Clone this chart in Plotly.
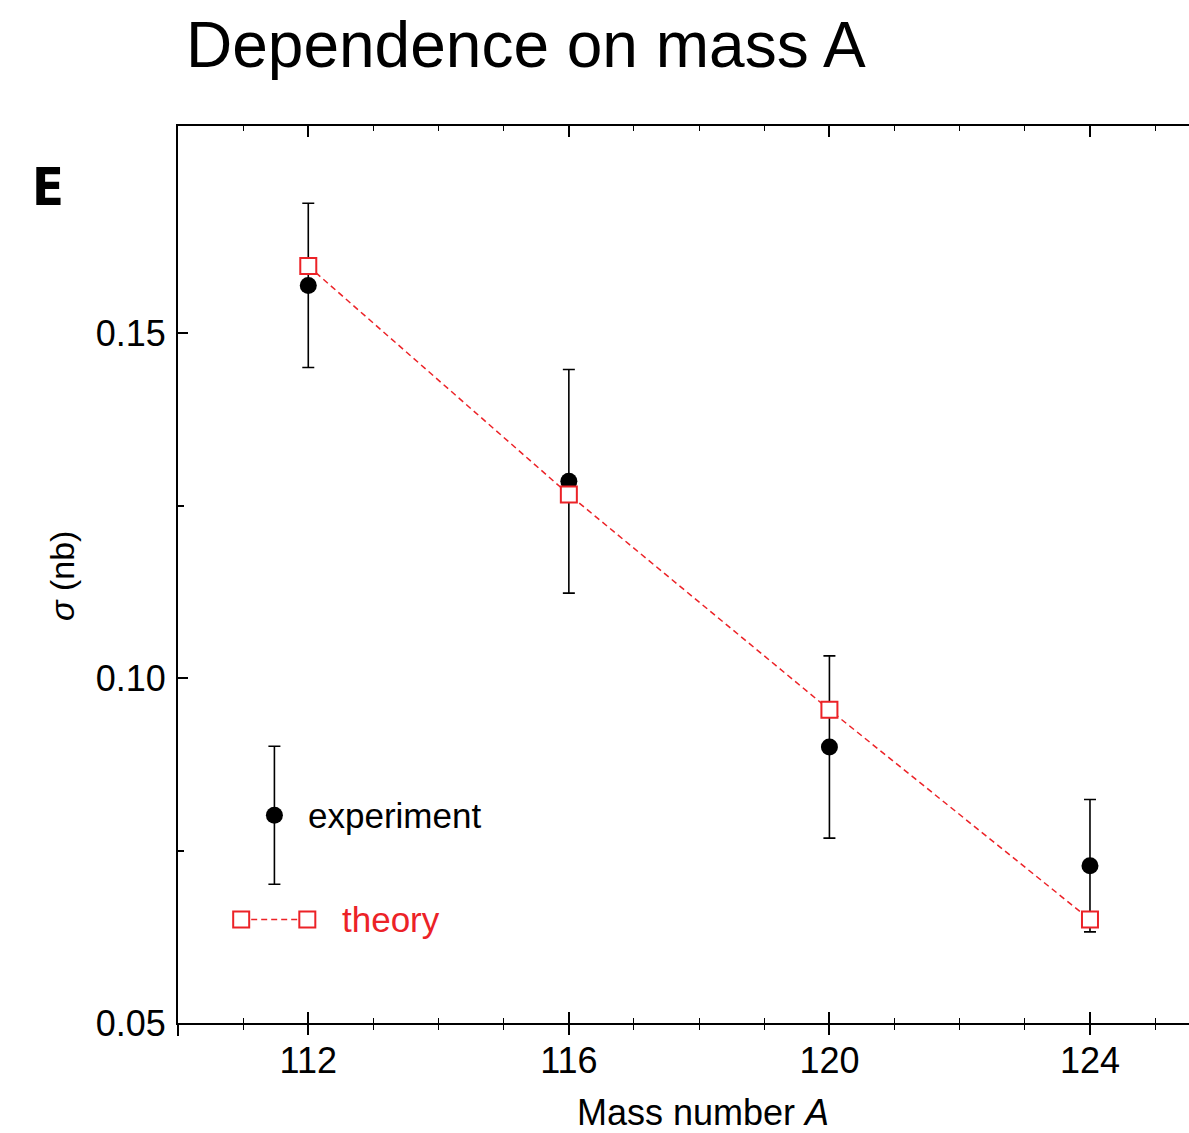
import plotly.graph_objects as go

# ---- data ----
mass_A = [112, 116, 120, 124]
exp_sigma = [0.1569, 0.1285, 0.0900, 0.0728]
exp_err = [0.0119, 0.0162, 0.0132, 0.0096]
theory_sigma = [0.1597, 0.1266, 0.0954, 0.0650]

# ---- legend key placement (layout, in axis units) ----
LEG_EXP_X = [111.48]
LEG_EXP_Y = [0.0801]
LEG_EXP_ERR = [0.0100]
LEG_TH_X = [110.97, 111.985]
LEG_TH_Y = [0.0650, 0.0650]

RED = "#ec2227"
FONT = "Liberation Sans, Arial, Helvetica, sans-serif"

fig = go.Figure()

fig.add_trace(go.Scatter(
    x=mass_A, y=exp_sigma, mode="markers",
    marker=dict(symbol="circle", size=17, color="black"),
    error_y=dict(type="data", array=exp_err, visible=True, color="black",
                 thickness=1.6, width=6),
    showlegend=False, cliponaxis=False))

fig.add_trace(go.Scatter(
    x=mass_A, y=theory_sigma, mode="lines+markers",
    line=dict(color=RED, width=1.5, dash="6px,4px"),
    marker=dict(symbol="square", size=16, color="white",
                line=dict(color=RED, width=2)),
    showlegend=False, cliponaxis=False))

# legend keys
fig.add_trace(go.Scatter(
    x=LEG_EXP_X, y=LEG_EXP_Y, mode="markers",
    marker=dict(symbol="circle", size=17, color="black"),
    error_y=dict(type="data", array=LEG_EXP_ERR, visible=True, color="black",
                 thickness=1.6, width=6),
    showlegend=False))
fig.add_trace(go.Scatter(
    x=LEG_TH_X, y=LEG_TH_Y, mode="lines+markers",
    line=dict(color=RED, width=1.5, dash="6px,4px"),
    marker=dict(symbol="square", size=16, color="white",
                line=dict(color=RED, width=2)),
    showlegend=False))

# overlay axis for the outward half of bottom ticks
fig.add_trace(go.Scatter(x=[110], y=[0.05], xaxis="x2", mode="markers",
                         marker=dict(opacity=0), showlegend=False,
                         hoverinfo="skip"))

XR = [110, 125.52]
YR = [0.05, 0.18]

fig.update_layout(
    width=1189, height=1133,
    margin=dict(l=178, r=0, t=126, b=110),
    paper_bgcolor="white", plot_bgcolor="white",
    font=dict(family=FONT, size=36, color="black"),
    title=dict(text="Dependence on mass A", font=dict(size=64, color="black"),
               xref="container", x=186/1189, xanchor="left",
               yref="container", y=1-45/1133, yanchor="middle"),
    xaxis=dict(range=XR, showgrid=False, zeroline=False,
               showline=True, linecolor="black", linewidth=2,
               mirror="allticks",
               ticks="inside", ticklen=11, tickwidth=1.5, tickcolor="black",
               tick0=112, dtick=4, ticklabelstandoff=5,
               tickfont=dict(size=36),
               minor=dict(dtick=1, ticks="inside", ticklen=5, tickwidth=1.2,
                          tickcolor="black")),
    xaxis2=dict(range=XR, overlaying="x", anchor="y", side="bottom",
                showgrid=False, zeroline=False, showline=False,
                showticklabels=False,
                ticks="outside", ticklen=11, tickwidth=1.5, tickcolor="black",
                tick0=112, dtick=4,
                minor=dict(dtick=1, ticks="outside", ticklen=6, tickwidth=1.2,
                           tickcolor="black")),
    yaxis=dict(range=YR, showgrid=False, zeroline=False,
               showline=True, linecolor="black", linewidth=2, mirror=False,
               ticks="inside", ticklen=10, tickwidth=1.5, tickcolor="black",
               tick0=0.05, dtick=0.05, tickformat=".2f",
               ticklabelstandoff=3, tickfont=dict(size=36),
               minor=dict(tickvals=[0.075, 0.125], ticks="inside", ticklen=6,
                          tickwidth=1.5, tickcolor="black")),
    shapes=[
        dict(type="line", xref="paper", yref="paper", x0=0, x1=0,
             y0=0, y1=-13/897, line=dict(color="black", width=2)),
    ],
    annotations=[
        dict(text="<b>E</b>", xref="paper", yref="paper",
             x=(48-178)/1011, y=(1023-187)/897, xanchor="center",
             yanchor="middle", showarrow=False,
             font=dict(family="DejaVu Sans Condensed, " + FONT,
                       size=52, color="black")),
        dict(text="<i>σ</i> (nb)", xref="paper", yref="paper",
             x=(62-178)/1011, y=(1023-576)/897, xanchor="center",
             yanchor="middle", textangle=-90, showarrow=False,
             font=dict(size=34, color="black")),
        dict(text="Mass number <i>A</i>", xref="paper", yref="paper",
             x=(703-178)/1011, y=(1023-1112)/897, xanchor="center",
             yanchor="middle", showarrow=False,
             font=dict(size=36, color="black")),
        dict(text="experiment", xref="x", yref="y",
             x=111.97, y=LEG_EXP_Y[0], xanchor="left", yanchor="middle",
             showarrow=False, font=dict(size=35, color="black")),
        dict(text="theory", xref="x", yref="y",
             x=112.49, y=LEG_TH_Y[0], xanchor="left", yanchor="middle",
             showarrow=False, font=dict(size=35, color=RED)),
    ],
)

fig.write_html("out.html")
